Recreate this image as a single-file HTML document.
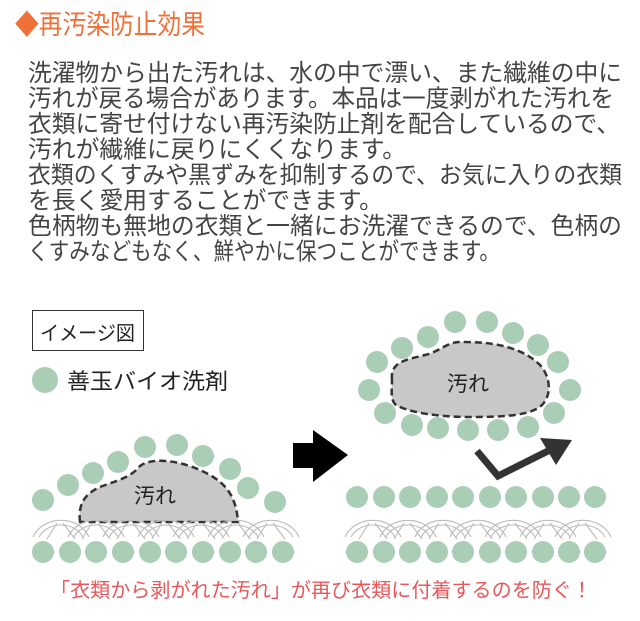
<!DOCTYPE html>
<html><head><meta charset="utf-8"><style>
html,body{margin:0;padding:0;background:#fff;}
svg{display:block;}
text{font-family:"Liberation Sans","Noto Sans CJK JP",sans-serif;}
</style></head><body>
<svg width="640" height="621" viewBox="0 0 640 621" xmlns="http://www.w3.org/2000/svg">
<defs>
<g id="arcu" fill="none" stroke="#bbb" stroke-width="1.1">
<path d="M0 30 A30 26 0 0 1 56 30"/>
<path d="M6 30 A24 20 0 0 1 50 30"/>
<path d="M14 32 L24 16 M30 16 L42 32"/>
</g>
</defs>
<text x="15" y="34" font-size="27" fill="#f0703a" textLength="190" lengthAdjust="spacingAndGlyphs">◆再汚染防止効果</text>
<g font-size="24" fill="#444">
<text x="28" y="81" textLength="594" lengthAdjust="spacingAndGlyphs">洗濯物から出た汚れは、水の中で漂い、また繊維の中に</text>
<text x="28" y="106.5" textLength="586" lengthAdjust="spacingAndGlyphs">汚れが戻る場合があります。本品は一度剥がれた汚れを</text>
<text x="28" y="132" textLength="592" lengthAdjust="spacingAndGlyphs">衣類に寄せ付けない再汚染防止剤を配合しているので、</text>
<text x="28" y="157.5" textLength="378" lengthAdjust="spacingAndGlyphs">汚れが繊維に戻りにくくなります。</text>
<text x="28" y="183" textLength="594" lengthAdjust="spacingAndGlyphs">衣類のくすみや黒ずみを抑制するので、お気に入りの衣類</text>
<text x="28" y="208.5" textLength="355" lengthAdjust="spacingAndGlyphs">を長く愛用することができます。</text>
<text x="28" y="234" textLength="594" lengthAdjust="spacingAndGlyphs">色柄物も無地の衣類と一緒にお洗濯できるので、色柄の</text>
<text x="28" y="259.5" textLength="472" lengthAdjust="spacingAndGlyphs">くすみなどもなく、鮮やかに保つことができます。</text>
</g>
<rect x="32.5" y="310.5" width="111" height="40" fill="#fff" stroke="#333" stroke-width="1"/>
<text x="40" y="340" font-size="20" fill="#222" textLength="95" lengthAdjust="spacingAndGlyphs">イメージ図</text>
<circle cx="45" cy="380" r="13" fill="#a9cdb5"/>
<text x="67" y="389" font-size="22" fill="#222" textLength="161" lengthAdjust="spacingAndGlyphs">善玉バイオ洗剤</text>

<g fill="#a9cdb5">
<circle cx="43" cy="500" r="11"/><circle cx="68" cy="485" r="11"/><circle cx="93" cy="473" r="11"/><circle cx="118" cy="462" r="11"/><circle cx="145" cy="447" r="11"/><circle cx="177" cy="445" r="11"/><circle cx="203" cy="456" r="11"/><circle cx="230" cy="469" r="11"/><circle cx="248" cy="488" r="11"/><circle cx="275" cy="502" r="11"/>
</g>
<path d="M80 522 C78 505 84 494 100 487 C118 480 130 478 140 466 C150 458 175 459 200 470 C222 480 236 492 238 522 Z" fill="#c8c8c8" stroke="#333" stroke-width="2.5" stroke-dasharray="7 4"/>
<text x="134" y="503" font-size="21" fill="#222">汚れ</text>
<g>
<use href="#arcu" x="33" y="507"/><use href="#arcu" x="68" y="507"/><use href="#arcu" x="103" y="507"/><use href="#arcu" x="138" y="507"/><use href="#arcu" x="173" y="507"/><use href="#arcu" x="208" y="507"/><use href="#arcu" x="243" y="507"/>
</g>
<g fill="#a9cdb5">
<circle cx="43" cy="552" r="11"/><circle cx="70" cy="552" r="11"/><circle cx="96" cy="552" r="11"/><circle cx="123" cy="552" r="11"/><circle cx="150" cy="552" r="11"/><circle cx="176" cy="552" r="11"/><circle cx="203" cy="552" r="11"/><circle cx="230" cy="552" r="11"/><circle cx="256" cy="552" r="11"/><circle cx="283" cy="552" r="11"/>
</g>

<path d="M293 443 H313 V430 L348 455 L313 482 V468 H293 Z" fill="#000"/>

<g fill="#a9cdb5">
<circle cx="455" cy="322" r="11"/><circle cx="487" cy="322" r="11"/><circle cx="513" cy="333" r="11"/><circle cx="538" cy="345" r="11"/><circle cx="558" cy="362" r="11"/><circle cx="570" cy="390" r="11"/><circle cx="554" cy="413" r="11"/><circle cx="528" cy="427" r="11"/><circle cx="498" cy="430" r="11"/><circle cx="468" cy="430" r="11"/><circle cx="438" cy="428" r="11"/><circle cx="412" cy="425" r="11"/><circle cx="385" cy="413" r="11"/><circle cx="369" cy="390" r="11"/><circle cx="377" cy="362" r="11"/><circle cx="402" cy="348" r="11"/><circle cx="428" cy="337" r="11"/>
</g>
<path d="M392 380 C390 362 405 360 425 355 C440 352 448 340 465 342 C500 342 525 350 540 365 C552 378 552 400 538 408 C525 416 500 417 470 417 C440 417 410 413 396 405 C390 400 392 390 392 380 Z" fill="#c8c8c8" stroke="#333" stroke-width="2.5" stroke-dasharray="7 4"/>
<text x="447" y="391" font-size="21" fill="#222">汚れ</text>
<path d="M477 451 L498 476 L552 449" fill="none" stroke="#333" stroke-width="7"/>
<path d="M540 438 L572 440 L556 465 Z" fill="#333"/>

<g fill="#a9cdb5">
<circle cx="357" cy="497" r="11"/><circle cx="384" cy="497" r="11"/><circle cx="410" cy="497" r="11"/><circle cx="437" cy="497" r="11"/><circle cx="463" cy="497" r="11"/><circle cx="490" cy="497" r="11"/><circle cx="516" cy="497" r="11"/><circle cx="543" cy="497" r="11"/><circle cx="569" cy="497" r="11"/><circle cx="595" cy="497" r="11"/>
</g>
<g>
<use href="#arcu" x="345" y="507"/><use href="#arcu" x="380" y="507"/><use href="#arcu" x="415" y="507"/><use href="#arcu" x="450" y="507"/><use href="#arcu" x="485" y="507"/><use href="#arcu" x="520" y="507"/><use href="#arcu" x="555" y="507"/>
</g>
<g fill="#a9cdb5">
<circle cx="357" cy="552" r="11"/><circle cx="384" cy="552" r="11"/><circle cx="410" cy="552" r="11"/><circle cx="437" cy="552" r="11"/><circle cx="463" cy="552" r="11"/><circle cx="490" cy="552" r="11"/><circle cx="516" cy="552" r="11"/><circle cx="543" cy="552" r="11"/><circle cx="569" cy="552" r="11"/><circle cx="595" cy="552" r="11"/>
</g>

<text x="50" y="597" font-size="20" fill="#e8585a" textLength="542" lengthAdjust="spacingAndGlyphs">「衣類から剥がれた汚れ」が再び衣類に付着するのを防ぐ！</text>
</svg>
</body></html>
